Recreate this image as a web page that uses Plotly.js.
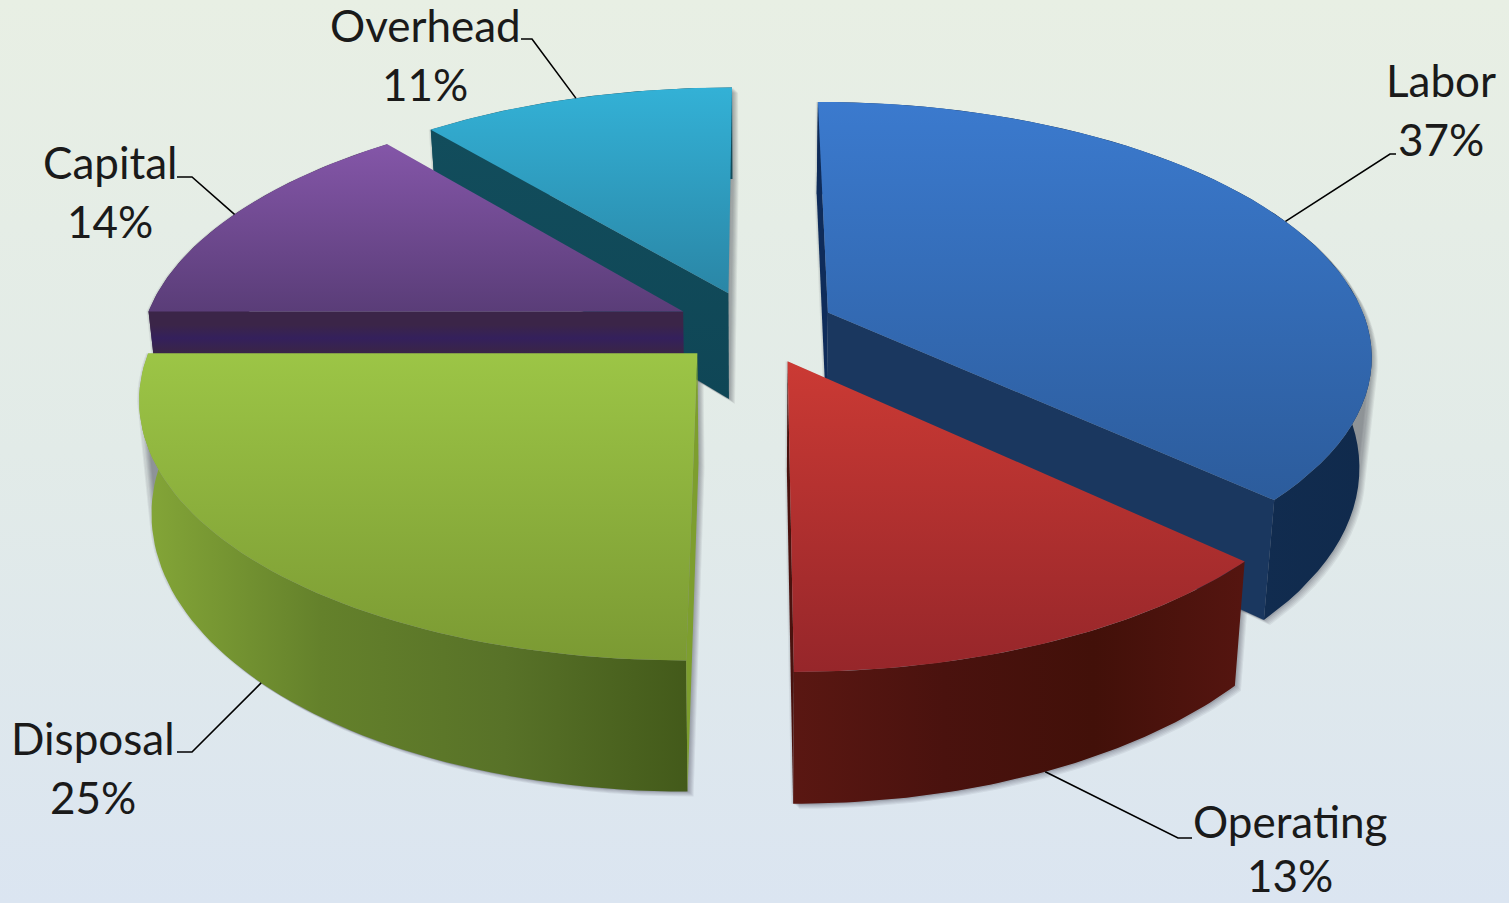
<!DOCTYPE html>
<html><head><meta charset="utf-8">
<script src="https://cdn.plot.ly/plotly-3.0.1.min.js"></script>
<style>html,body{margin:0;padding:0;width:1509px;height:903px;overflow:hidden;background:linear-gradient(180deg,#e8efe4 0%,#e2ebe8 50%,#dbe5f1 100%)}#chart{width:1509px;height:903px}</style>
</head><body><div id="chart"></div>
<script>
// ---- data ----
const categories = ['Labor','Operating','Disposal','Capital','Overhead'];
const shares = [37,13,25,14,11];
// ---- label placement (axis units = px of the page) ----
const labelX = [1441,1290,93,110,425];
const labelY = [80,821,738,162,25];
const percentY = [139,875,797,221,84];
const leaderElbowX = [1390,1178,192,192,532];
const leaderEndX = [1396,1192,177,177,521];
const leaderElbowY = [154,838,752,177,39];
// ---- style ----
const topColors = [['#3b7ace','#2c5c9c'],['#cb3a34','#96262a'],['#9cc546','#7b9a33'],['#8456a8','#5a3d78'],['#33b1d6','#2a86a6']];
const rimColors = [['#15335c','#102a4c'],['#5a1712','#4a120e','#421009','#551510'],['#85a738','#64812b','#587228','#435a1a'],['#3a2548','#3a2548'],['#124d5c','#124d5c']];
// side walls per slice: [first radial edge, last radial edge]; null = hidden from view
const sideColors = [
  [['#0f2c5a','#0f2c5a'],['#1a375f','#1a375f']],
  [null,['#4a120e','#4a120e']],
  [['#7d9e2e','#7d9e2e'],null],
  [['#3b2548','#3b2548','#34205c','#3a2548','#2e1f5c','#2e1f5c','#2e1f5c','#2e1f5c','#2e1f5c'],null],
  [['#124d5c','#0f4656'],null]
];
const shadowOffsets = [[6,5],[5,4],[4,3],[3,2],[2,1],[1,1],[-1,0],[-2,0]];
const shadowColor = 'rgba(40,45,50,0.07)';
// ---- projection of the tilted pie ----
const CX=755, CY=327, A=540, B=248.7, K=0.16, H=108, BOTTOM=0.98, EXPLODE=0.147;
function proj(X,Y,low){
  const w=1+K*Y;
  const sx=CX+A*X/w*(low?BOTTOM:1);
  const sy=CY-B*Y/w+(low?H/w:0);
  return [sx,sy];
}
const total=shares.reduce((a,b)=>a+b,0);
const wedges=[]; let acc=0;
shares.forEach((v,i)=>{
  const t0=acc/total*2*Math.PI; acc+=v; const t1=acc/total*2*Math.PI; const m=(t0+t1)/2;
  wedges.push({i,t0,t1,m,ex:EXPLODE*1.01*Math.sin(m),ey:EXPLODE*Math.cos(m)});
});
function rim(w,t,low){return proj(w.ex+Math.sin(t),w.ey+Math.cos(t),low);}
function arc(w,low,rev){
  const n=60,pts=[];
  for(let j=0;j<=n;j++){const t=w.t0+(w.t1-w.t0)*j/n;pts.push(rim(w,t,low));}
  return rev?pts.reverse():pts;
}
function hull(pts){
  const p=pts.slice().sort((a,b)=>a[0]-b[0]||a[1]-b[1]);
  const cross=(o,a,b)=>(a[0]-o[0])*(b[1]-o[1])-(a[1]-o[1])*(b[0]-o[0]);
  const lo=[],up=[];
  p.forEach(q=>{while(lo.length>1&&cross(lo[lo.length-2],lo[lo.length-1],q)<=0)lo.pop();lo.push(q);});
  p.slice().reverse().forEach(q=>{while(up.length>1&&cross(up[up.length-2],up[up.length-1],q)<=0)up.pop();up.push(q);});
  return lo.slice(0,-1).concat(up.slice(0,-1));
}
function scale(cols){return cols.map((c,j)=>[j/(cols.length-1),c]);}
function poly(pts,cols,type,name){
  const xs=pts.map(p=>p[0]),ys=pts.map(p=>p[1]);
  const vals=type==='horizontal'?xs:ys;
  const tr={type:'scatter',mode:'lines',x:xs.concat(xs[0]),y:ys.concat(ys[0]),fill:'toself',line:{width:0,color:'rgba(0,0,0,0)'},hoverinfo:'skip',showlegend:false,name};
  if(cols.length===2&&cols[0]===cols[1]){tr.fillcolor=cols[0];}
  else{tr.fillgradient={type,colorscale:scale(cols),start:Math.min(...vals),stop:Math.max(...vals)};}
  return tr;
}
const traces=[];
// soft shadows on the background only
wedges.forEach(w=>{
  const sil=hull([proj(w.ex,w.ey,false),proj(w.ex,w.ey,true)].concat(arc(w,false),arc(w,true)));
  shadowOffsets.forEach(o=>{
    traces.push(poly(sil.map(p=>[p[0]+o[0],p[1]+o[1]]),[shadowColor,shadowColor],'vertical',categories[w.i]+' shadow'));
  });
});
const order=[4,0,3,2,1];
order.forEach(i=>{
  const w=wedges[i];
  const apexT=proj(w.ex,w.ey,false), apexB=proj(w.ex,w.ey,true);
  const name=categories[i];
  traces.push(poly(arc(w,false).concat(arc(w,true,true)),rimColors[i],'horizontal',name+' rim'));
  [w.t0,w.t1].forEach((t,s)=>{
    if(sideColors[i][s])traces.push(poly([apexT,rim(w,t,false),rim(w,t,true),apexB],sideColors[i][s],'vertical',name+' side'));
  });
  traces.push(poly([apexT].concat(arc(w,false)),topColors[i],'vertical',name));
});
// leader lines from slice mid-angle on the rim
wedges.forEach(w=>{
  const i=w.i;
  const low=Math.cos(w.m)<-0.5;
  const a=rim(w,w.m,low);
  traces.push({type:'scatter',mode:'lines',x:[a[0],leaderElbowX[i],leaderEndX[i]],y:[a[1],leaderElbowY[i],leaderElbowY[i]],line:{color:'#000',width:1.6},hoverinfo:'skip',showlegend:false});
});
const font={family:'Lato, Carlito, Calibri, sans-serif',size:44,color:'#1a1a1a'};
const annotations=[];
categories.forEach((c,i)=>{
  annotations.push({x:labelX[i],y:labelY[i],xref:'x',yref:'y',text:c,showarrow:false,font,xanchor:'center',yanchor:'middle'});
  annotations.push({x:labelX[i],y:percentY[i],xref:'x',yref:'y',text:Math.round(shares[i]/total*100)+'%',showarrow:false,font,xanchor:'center',yanchor:'middle'});
});
Plotly.newPlot('chart',traces,{
  width:1509,height:903,margin:{l:0,r:0,t:0,b:0},
  paper_bgcolor:'rgba(0,0,0,0)',plot_bgcolor:'rgba(0,0,0,0)',showlegend:false,
  xaxis:{range:[0,1509],visible:false,fixedrange:true},
  yaxis:{range:[903,0],visible:false,fixedrange:true},
  annotations
},{displayModeBar:false,staticPlot:true});
</script></body></html>
